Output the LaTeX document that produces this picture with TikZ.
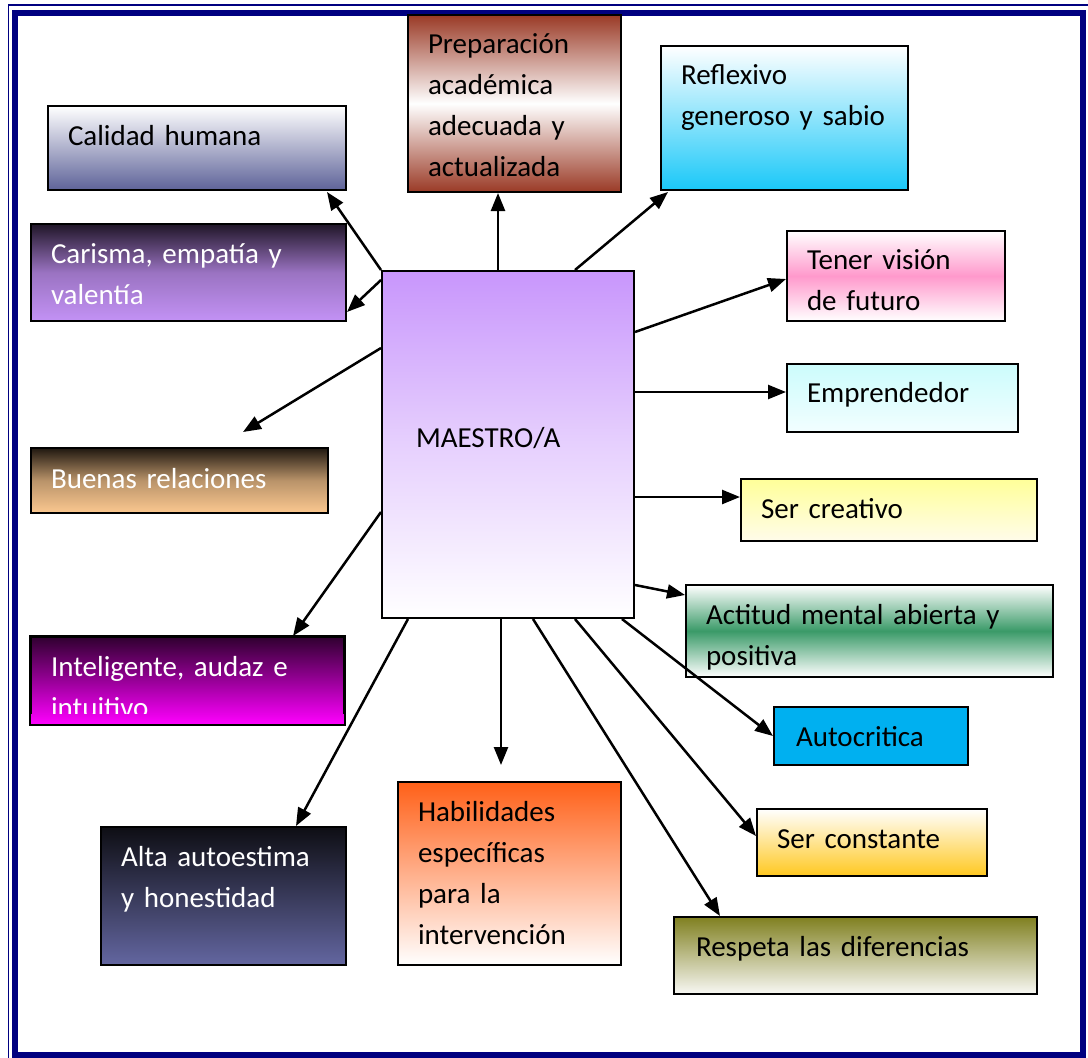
\documentclass[tikz,border=0pt]{standalone}
\usepackage{fontspec}
\setmainfont{Carlito}
\usetikzlibrary{arrows.meta}
\usetikzlibrary{calc}

\definecolor{marco}{HTML}{000080}
\definecolor{pizarra}{HTML}{5E6399}
\definecolor{nochemorada}{HTML}{201628}
\definecolor{lila}{HTML}{C392F5}
\definecolor{ladrillo}{HTML}{9A3A26}
\definecolor{celeste}{HTML}{1AC8F8}
\definecolor{rosa}{HTML}{FF99CC}
\definecolor{aguamarina}{HTML}{CCFCFC}
\definecolor{hielo}{HTML}{F2FEFF}
\definecolor{limon}{HTML}{FFFF99}
\definecolor{crema}{HTML}{FFFCEA}
\definecolor{bosque}{HTML}{3A9A68}
\definecolor{cielo}{HTML}{00B0F0}
\definecolor{oro}{HTML}{FFC820}
\definecolor{oliva}{HTML}{808020}
\definecolor{hueso}{HTML}{F8F8F4}
\definecolor{naranja}{HTML}{FF6018}
\definecolor{tinta}{HTML}{0E0E14}
\definecolor{lavanda}{HTML}{6366A0}
\definecolor{ciruela}{HTML}{300030}
\definecolor{fucsia}{HTML}{FF00FF}
\definecolor{cafe}{HTML}{201810}
\definecolor{melocoton}{HTML}{FBC890}
\definecolor{malva}{HTML}{C896FC}

\tikzset{
  caja/.style={draw=black, line width=2pt, anchor=north west, align=left,
    inner xsep=20pt, inner ysep=0pt, font=\fontsize{29}{41}\selectfont},
  flecha/.style={line width=2.5pt, -{Triangle[length=18pt,width=14pt]}},
}

\begin{document}
\begin{tikzpicture}[x=1pt,y=1pt,yscale=-1]
\useasboundingbox (0,0) rectangle (1088,1058);
%Frame
\draw[marco, line width=1.5pt] (8.5,1058) -- (8.5,5) -- (1088,5);
\draw[marco, line width=6pt] (15,13) rectangle (1083,1055);

%Shape: Rectangle [center]
\node[caja, inner xsep=34pt, text width=184pt, text height=176pt, text depth=171pt, top color=malva, bottom color=white, middle color=malva!45!white] (maestro) at (381,270) {MAESTRO/A};

%Shape: Rectangle [left column]
\node[caja, text width=258pt, text height=39pt, text depth=45pt, top color=white, bottom color=pizarra] (calidad) at (47,105) {Calidad humana};
\node[caja, text=white, text width=275pt, text height=39pt, text depth=58pt, top color=nochemorada, bottom color=lila, middle color=lila!75!nochemorada] (carisma) at (30,223) {Carisma, empatía y\\valentía};
\node[caja, text=white, text width=257pt, text height=40pt, text depth=25pt, top color=cafe, bottom color=melocoton, middle color=melocoton!70!cafe] (buenas) at (30,447) {Buenas relaciones};
\node[caja, text=white, text width=273pt, text height=39pt, text depth=48pt, top color=ciruela, bottom color=fucsia] (inteligente) at (30,636) {Inteligente, audaz e\\intuitivo};
\shade[top color=fucsia!88!ciruela, bottom color=fucsia] ($(inteligente.south west)+(1,-11)$) rectangle ($(inteligente.south east)+(-1,-1)$);
\draw[line width=2pt] (inteligente.north west) rectangle (inteligente.south east);
\node[caja, text=white, text width=205pt, text height=39pt, text depth=99pt, top color=tinta, bottom color=lavanda] (alta) at (100,826) {Alta autoestima\\y honestidad};

%Shape: Rectangle [top and bottom]
\node[caja, text width=173pt, text height=38pt, text depth=139pt, top color=ladrillo, bottom color=ladrillo, middle color=white] (preparacion) at (407,14) {Preparación\\académica\\adecuada y\\actualizada};
\node[caja, text width=183pt, text height=39pt, text depth=144pt, top color=naranja, bottom color=white] (habilidades) at (397,781) {Habilidades\\específicas\\para la\\intervención};

%Shape: Rectangle [right column]
\node[caja, text width=207pt, text height=38pt, text depth=106pt, top color=white, bottom color=celeste] (reflexivo) at (660,45) {Reflexivo\\generoso y sabio};
\node[caja, text width=178pt, text height=38pt, text depth=52pt, top color=white, bottom color=white, middle color=rosa] (vision) at (786,230) {Tener visión\\de futuro};
\node[caja, text width=191pt, text height=38pt, text depth=30pt, top color=aguamarina, bottom color=hielo] (emprendedor) at (786,363) {Emprendedor};
\node[caja, text width=256pt, text height=39pt, text depth=23pt, top color=limon, bottom color=crema] (creativo) at (740,478) {Ser creativo};
\node[caja, text width=327pt, text height=39pt, text depth=53pt, top color=white, bottom color=white, middle color=bosque] (actitud) at (685,584) {Actitud mental abierta y\\positiva};
\node[caja, inner xsep=22pt, text width=150pt, text height=39pt, text depth=19pt, fill=cielo] (autocritica) at (773,706) {Autocritica};
\node[caja, text width=190pt, text height=39pt, text depth=28pt, top color=white, bottom color=oro] (constante) at (756,808) {Ser constante};
\node[caja, inner xsep=22pt, text width=319pt, text height=39pt, text depth=38pt, top color=oliva, bottom color=hueso] (respeta) at (673,916) {Respeta las diferencias};

%Straight Lines
\draw[flecha] (maestro.north west) -- ($(calidad.south east)+(-20,1)$);
\draw[flecha] ($(maestro.north west)+(0,10)$) -- ($(carisma.south east)+(0,-10)$);
\draw[flecha] ($(maestro.north west)+(0,78)$) -- ($(buenas.north west)+(213,-15)$);
\draw[flecha] ($(maestro.north west)+(0,242)$) -- ($(inteligente.north west)+(263,0)$);
\draw[flecha] ($(maestro.south west)+(27,0)$) -- ($(alta.north west)+(196,0)$);
\draw[flecha] ($(maestro.north west)+(117,0)$) -- ($(preparacion.south west)+(91,0)$);
\draw[flecha] ($(maestro.south west)+(120,0)$) -- ($(habilidades.north west)+(104,-16)$);
\draw[flecha] ($(maestro.north west)+(194,0)$) -- ($(reflexivo.south west)+(8,1)$);
\draw[flecha] ($(maestro.north east)+(0,62)$) -- ($(vision.west)+(0,3)$);
\draw[flecha] ($(maestro.north east)+(0,122)$) -- ($(emprendedor.north west)+(0,29)$);
\draw[flecha] ($(maestro.north east)+(0,227)$) -- ($(creativo.north west)+(0,19)$);
\draw[flecha] ($(maestro.south east)+(0,-34)$) -- ($(actitud.north west)+(0,11)$);
\draw[flecha] ($(maestro.south east)+(-13,0)$) -- (autocritica.west);
\draw[flecha] ($(maestro.south west)+(194,0)$) -- ($(constante.north west)+(0,28)$);
\draw[flecha] ($(maestro.south west)+(152,0)$) -- ($(respeta.north west)+(47,0)$);
\end{tikzpicture}
\end{document}
